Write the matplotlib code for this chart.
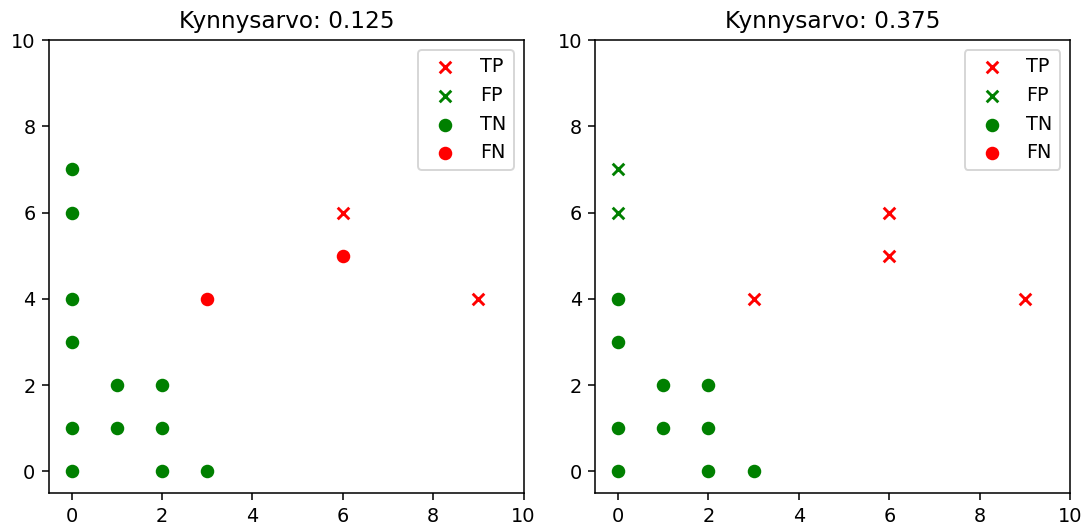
import matplotlib
matplotlib.use("Agg")
import matplotlib.pyplot as plt

titles = ["Kynnysarvo: 0.125", "Kynnysarvo: 0.375"]

# Panel 1 (threshold 0.125)
tp1_x = [6, 9]; tp1_y = [6, 4]
fp1_x = []; fp1_y = []
tn1_x = [0, 0, 0, 0, 1, 2, 0, 1, 2, 0, 2, 3]
tn1_y = [7, 6, 4, 3, 2, 2, 1, 1, 1, 0, 0, 0]
fn1_x = [6, 3]; fn1_y = [5, 4]

# Panel 2 (threshold 0.375)
tp2_x = [6, 6, 3, 9]; tp2_y = [6, 5, 4, 4]
fp2_x = [0, 0]; fp2_y = [7, 6]
tn2_x = [0, 0, 1, 2, 0, 1, 2, 0, 2, 3]
tn2_y = [4, 3, 2, 2, 1, 1, 1, 0, 0, 0]
fn2_x = []; fn2_y = []

panels = [
    (tp1_x, tp1_y, fp1_x, fp1_y, tn1_x, tn1_y, fn1_x, fn1_y),
    (tp2_x, tp2_y, fp2_x, fp2_y, tn2_x, tn2_y, fn2_x, fn2_y),
]

DPI = 139
fig, axes = plt.subplots(1, 2, figsize=(1086 / DPI, 527 / DPI), dpi=DPI)
fig.subplots_adjust(left=0.0451, right=0.9853, bottom=0.0645, top=0.924, wspace=0.1516)

for ax, title, (tpx, tpy, fpx, fpy, tnx, tny, fnx, fny) in zip(axes, titles, panels):
    ax.scatter(tpx, tpy, marker='x', color='red', label='TP')
    ax.scatter(fpx, fpy, marker='x', color='green', label='FP')
    ax.scatter(tnx, tny, marker='o', color='green', label='TN')
    ax.scatter(fnx, fny, marker='o', color='red', label='FN')
    ax.set_xlim(-0.5, 10)
    ax.set_ylim(-0.5, 10)
    ax.set_title(title)
    ax.legend(loc='upper right')

fig.savefig("out.png", dpi=DPI)
